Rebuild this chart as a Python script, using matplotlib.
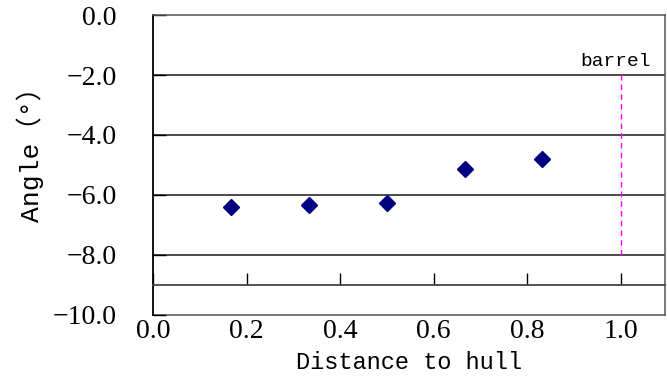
import matplotlib
matplotlib.use("Agg")
import matplotlib.pyplot as plt

# measured points
distance = [0.167, 0.333, 0.500, 0.667, 0.833]
angle = [-6.41, -6.33, -6.28, -5.13, -4.79]

barrel_x = 1.0
barrel_span = [-8.0, -2.0]

x_ticks = [0.0, 0.2, 0.4, 0.6, 0.8, 1.0]
y_ticks = [0.0, -2.0, -4.0, -6.0, -8.0, -10.0]

mono = ["Liberation Mono", "Noto Sans CJK SC", "DejaVu Sans Mono"]
num_font = ["Liberation Serif", "DejaVu Serif"]


def fmt(v):
    return ("%.1f" % v).replace("-", "\u2212")


plt.rcParams["font.family"] = mono

fig = plt.figure(figsize=(6.67, 3.78), dpi=100)
ax = fig.add_axes([0.2294, 0.1667, 0.7676, 0.7936])

ax.set_xlim(0, 1.095)
ax.set_ylim(-10, 0)

# horizontal gridlines
for y in [-2, -4, -6, -8]:
    ax.axhline(y, color="#1a1a1a", lw=1.1, zorder=1)

ax.plot(distance, angle, linestyle="none", marker="D", markersize=7.8,
        color="#000080", zorder=3)

ax.vlines(barrel_x, barrel_span[0], barrel_span[1], colors="#ff00ff",
          linestyles=(0, (4, 3)), lw=1.0, zorder=2)
ax.text(barrel_x - 0.01, -1.55, "barrel", ha="center", va="center",
        fontsize=14)

# x axis crosses at -9, labels sit under the frame
ax.spines["bottom"].set_position(("data", -9))
ax.spines["bottom"].set_color("#444444")
ax.spines["bottom"].set_linewidth(1.3)
ax.set_xticks(x_ticks)
ax.tick_params(axis="x", direction="in", length=9, width=1, color="black",
               labelbottom=False)

sec = ax.secondary_xaxis("bottom")
sec.set_xticks(x_ticks)
sec.set_xticklabels([fmt(v) for v in x_ticks], family=num_font, fontsize=20)
sec.tick_params(length=0, pad=3)
sec.spines["bottom"].set_color("#555555")
sec.spines["bottom"].set_linewidth(1.1)
sec.set_xlabel("Distance to hull", fontsize=17, labelpad=5)

for side in ["top", "right"]:
    ax.spines[side].set_color("#555555")
    ax.spines[side].set_linewidth(1.1)
ax.spines["left"].set_color("black")
ax.spines["left"].set_linewidth(1.3)

ax.set_yticks(y_ticks)
ax.set_yticklabels([fmt(v) for v in y_ticks], family=num_font, fontsize=20)
ax.tick_params(axis="y", direction="in", length=9, width=1, pad=26)
ax.set_ylabel("Angle（°）", fontsize=19)
ax.yaxis.set_label_coords(-0.213, 0.558)

fig.savefig("out.png", dpi=100)
